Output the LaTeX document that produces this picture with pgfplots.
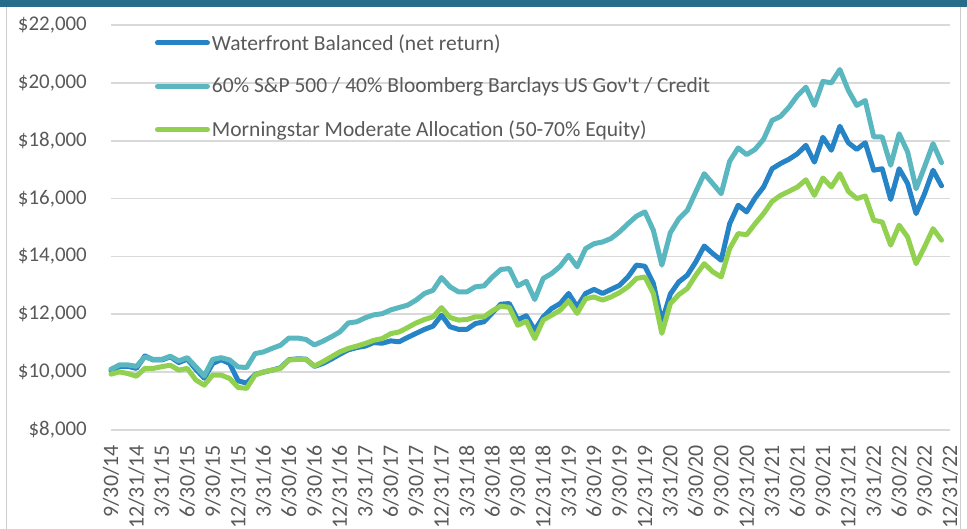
\documentclass[border=0pt]{standalone}
\usepackage{pgfplots}
\pgfplotsset{compat=1.18}
\usepackage{pgfplotstable}
\usepackage{fontspec}
\setmainfont{Carlito}
\definecolor{band}{RGB}{38,109,138}
\definecolor{wfblue}{RGB}{38,132,198}
\definecolor{spteal}{RGB}{90,183,192}
\definecolor{msgreen}{RGB}{146,208,80}
\definecolor{txt}{RGB}{89,89,89}
\definecolor{gridc}{RGB}{217,217,217}
\definecolor{framec}{RGB}{205,205,205}

\pgfplotstableread{
i wf sp ms
0 10050 10100 9930
1 10200 10250 10010
2 10200 10250 9950
3 10130 10200 9860
4 10560 10520 10130
5 10420 10440 10130
6 10420 10440 10190
7 10530 10550 10240
8 10330 10390 10070
9 10450 10500 10130
10 10100 10190 9730
11 9790 9870 9550
12 10300 10440 9900
13 10430 10500 9900
14 10300 10420 9780
15 9700 10180 9470
16 9620 10160 9440
17 9920 10640 9900
18 10000 10700 10010
19 10070 10820 10070
20 10150 10930 10130
21 10430 11180 10420
22 10460 11180 10440
23 10450 11130 10440
24 10200 10940 10210
25 10300 11070 10360
26 10450 11220 10530
27 10620 11390 10700
28 10770 11700 10820
29 10850 11740 10900
30 10900 11880 10990
31 11020 11980 11100
32 11000 12020 11160
33 11080 12150 11330
34 11050 12235 11390
35 11200 12315 11540
36 11340 12490 11700
37 11480 12720 11820
38 11590 12830 11910
39 11970 13270 12230
40 11570 12950 11890
41 11480 12775 11800
42 11480 12775 11820
43 11680 12950 11910
44 11740 12980 11910
45 12050 13290 12120
46 12350 13550 12280
47 12370 13580 12240
48 11810 12980 11620
49 11950 13140 11760
50 11450 12510 11160
51 11910 13240 11800
52 12200 13410 11970
53 12370 13660 12140
54 12720 14040 12460
55 12260 13640 12030
56 12720 14270 12540
57 12860 14440 12600
58 12720 14500 12490
59 12860 14620 12600
60 13000 14850 12750
61 13290 15130 12950
62 13700 15390 13240
63 13660 15540 13290
64 13060 14900 12720
65 11740 13700 11340
66 12700 14820 12370
67 13120 15300 12680
68 13350 15590 12890
69 13810 16230 13350
70 14360 16860 13750
71 14100 16520 13470
72 13870 16170 13290
73 15130 17290 14270
74 15770 17750 14790
75 15540 17520 14750
76 16020 17700 15130
77 16400 18050 15480
78 17030 18700 15900
79 17210 18840 16110
80 17360 19160 16250
81 17550 19560 16400
82 17840 19850 16650
83 17260 19220 16110
84 18120 20050 16710
85 17670 20000 16400
86 18500 20460 16860
87 17930 19740 16250
88 17700 19220 16000
89 17930 19390 16090
90 16980 18130 15250
91 17030 18130 15190
92 15970 17150 14390
93 17030 18240 15080
94 16520 17610 14670
95 15480 16340 13750
96 16170 17100 14330
97 16980 17900 14960
98 16440 17240 14560
}\datatable

\begin{document}
\begin{tikzpicture}
\useasboundingbox (0bp,0bp) rectangle (967bp,529bp);
\fill[band] (0bp,521.5bp) rectangle (967bp,529bp);
\draw[framec, line width=1bp] (6.5bp,0bp) -- (6.5bp,521.5bp);
\draw[framec, line width=1bp] (960.5bp,0bp) -- (960.5bp,521.5bp);
\begin{axis}[
  at={(111bp,99bp)}, anchor=south west,
  scale only axis, width=839bp, height=405bp,
  xmin=0, xmax=99, ymin=8000, ymax=22000,
  scaled y ticks=false, scaled x ticks=false,
  clip=false,
  axis line style={draw=none},
  major tick length=0pt,
  tick style={draw=none},
  ymajorgrids,
  grid style={gridc, line width=1.6bp},
  /pgf/number format/assume math mode=true,
  ytick={8000,10000,12000,14000,16000,18000,20000,22000},
  yticklabels={\$8{,}000,\$10{,}000,\$12{,}000,\$14{,}000,\$16{,}000,\$18{,}000,\$20{,}000,\$22{,}000},
  xtick={0,3,...,99},
  xticklabels={9/30/14,12/31/14,3/31/15,6/30/15,9/30/15,12/31/15,3/31/16,6/30/16,9/30/16,12/31/16,3/31/17,6/30/17,9/30/17,12/31/17,3/31/18,6/30/18,9/30/18,12/31/18,3/31/19,6/30/19,9/30/19,12/31/19,3/31/20,6/30/20,9/30/20,12/31/20,3/31/21,6/30/21,9/30/21,12/31/21,3/31/22,6/30/22,9/30/22,12/31/22},
  yticklabel style={font=\fontsize{21}{25}\selectfont, text=txt, anchor=east, inner sep=0pt},
  yticklabel shift=24bp,
  xticklabel style={font=\fontsize{22}{26}\selectfont, text=txt, rotate=90, anchor=east, inner sep=0pt},
  xticklabel shift=15bp,
  legend cell align=left,
  legend style={draw=none, fill=none, at={(0.0524,0.982)}, anchor=north west,
    inner sep=0pt, outer sep=0pt, row sep=22.5bp, column sep=0bp,
    font=\fontsize{21.6}{25}\selectfont, text=txt,
    nodes={inner sep=2bp}},
  legend image code/.code={\draw[#1, line width=5bp, line cap=round] (2.5bp,0bp) -- (52.5bp,0bp);},
  every axis plot/.append style={line width=5bp, line join=round, line cap=round, mark=none},
]
\addplot[wfblue] table[x=i, y=wf] {\datatable};
\addlegendentry{Waterfront Balanced (net return)}
\addplot[spteal] table[x=i, y=sp] {\datatable};
\addlegendentry{60\% S\&P 500 / 40\% Bloomberg Barclays US Gov\textquotesingle t / Credit}
\addplot[msgreen] table[x=i, y=ms] {\datatable};
\addlegendentry{Morningstar Moderate Allocation (50-70\% Equity)}
\end{axis}
\end{tikzpicture}
\end{document}
